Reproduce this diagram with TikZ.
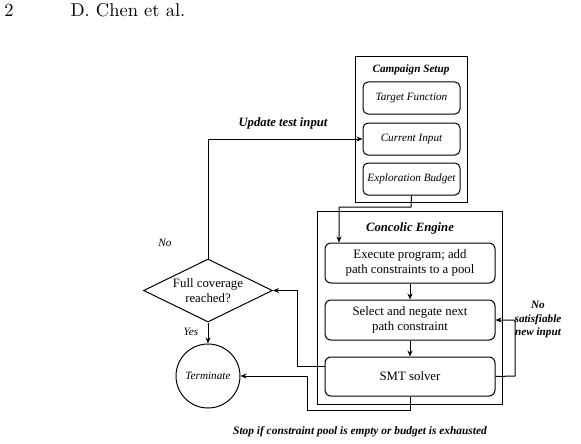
\documentclass[tikz,border=0pt]{standalone}
\usepackage{fontspec}
\newfontfamily\tms{Liberation Serif}
\newfontfamily\lmten{lmroman10-regular}[Extension=.otf]
\usetikzlibrary{shapes.geometric,arrows.meta}
\begin{document}
\begin{tikzpicture}[x=1pt,y=-1pt,line width=1pt,
  >={Stealth[length=6pt,width=5pt]},
  reg/.style={font=\tms\fontsize{12.8}{14.5}\selectfont},
  ital/.style={font=\tms\itshape\fontsize{11.2}{13}\selectfont},
  bi/.style={font=\tms\bfseries\itshape\fontsize{11.2}{13.5}\selectfont},
  bibig/.style={font=\tms\bfseries\itshape\fontsize{12.7}{14.5}\selectfont},
  ibox/.style={draw,rounded corners=5pt,minimum width=97pt,minimum height=32pt,inner sep=0pt,ital},
  ebox/.style={draw,rounded corners=6pt,minimum width=170pt,inner sep=0pt,align=center,reg},
  frame/.style={draw,inner sep=0pt}]
\useasboundingbox (0,0) rectangle (581,444);
% header
\node[anchor=base west,inner sep=0pt,font=\lmten\fontsize{18.5}{20}\selectfont] (pg) at (4,17) {2};
\node[anchor=base west,inner sep=0pt,font=\lmten\fontsize{18.5}{20}\selectfont] (au) at (70,17) {D. Chen et al.};
% campaign setup
\node[frame,minimum width=112pt,minimum height=145pt] (camp) at (411,129.5) {};
\node[bi] (camptitle) at (411,70) {Campaign Setup};
\node[ibox] (target) at (411.5,98) {Target Function};
\node[ibox] (current) at (411.5,139) {Current Input};
\node[ibox] (budget) at (411.5,179) {Exploration Budget};
% concolic engine
\node[frame,minimum width=185pt,minimum height=193pt] (conc) at (409.5,307.5) {};
\node[bibig] (conctitle) at (410,228) {Concolic Engine};
\node[ebox,minimum height=40pt] (exec) at (410,263) {Execute program; add\\path constraints to a pool};
\node[ebox,minimum height=40pt] (select) at (410,320) {Select and negate next\\path constraint};
\node[ebox,minimum height=39pt] (smt) at (410,376.5) {SMT solver};
% decision and terminate
\node[draw,diamond,aspect=2.05,minimum width=129pt,minimum height=63pt,inner sep=0pt,align=center,reg] (dec) at (208,290.5) {Full coverage\\reached?};
\node[draw,circle,minimum size=64pt,inner sep=0pt,ital] (term) at (208,376) {Terminate};
% labels
\node[bibig] (upd) at (283,123) {Update test input};
\node[ital] (nolab) at (165,243) {No};
\node[ital] (yeslab) at (191,332) {Yes};
\node[bi,align=center] (nosat) at (538,320) {No\\satisfiable\\new input};
\node[bi,font=\tms\bfseries\itshape\fontsize{11.4}{13}\selectfont] (stop) at (360,432) {Stop if constraint pool is empty or budget is exhausted};
% connectors
\coordinate (b1) at (411,207);
\coordinate (b2) at (339,207);
\draw[->] (budget.south) -- (b1) -- (b2) -- (b2 |- exec.north);
\draw[->] (exec.south) -- (select.north);
\draw[->] (select.south) -- (smt.north);
\coordinate (r1) at (515,376);
\draw[->] (smt.east) -- (r1) |- (select.east);
\coordinate (l1) at (297,366.5);
\draw[->] ([yshift=10pt]smt.west) -- (l1) |- (dec.east);
\coordinate (t1) at (307,410);
\draw[->] (smt.south) |- (t1) |- (term.east);
\draw[->] (dec.north) |- (current.west);
\draw[->] (dec.south) -- (term.north);
\end{tikzpicture}
\end{document}
